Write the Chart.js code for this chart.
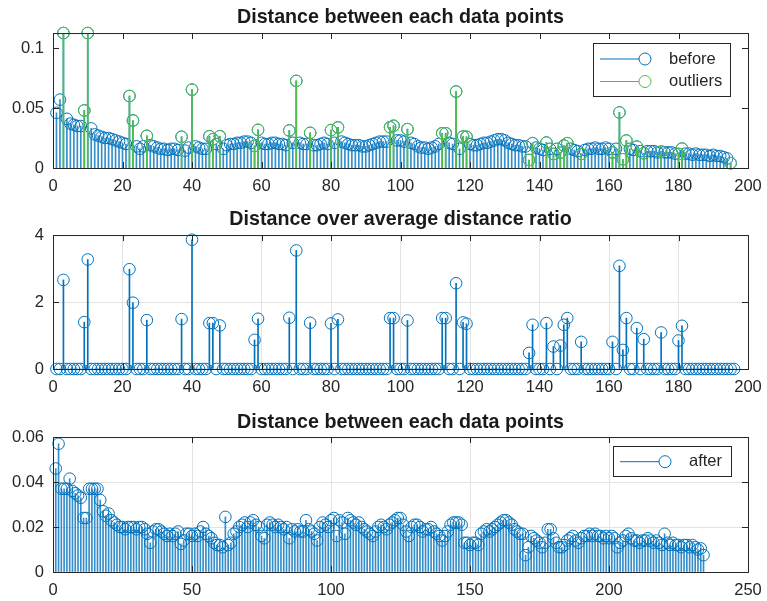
<!DOCTYPE html>
<html>
<head>
<meta charset="utf-8">
<script src="https://cdn.jsdelivr.net/npm/chart.js@4.4.0/dist/chart.umd.min.js"></script>
<style>
  body { margin: 0; background: #fff; }
  canvas { position: absolute; left: 0; }
</style>
</head>
<body>
<canvas id="top" width="767" height="200" style="top:0px"></canvas>
<canvas id="mid" width="767" height="200" style="top:200px"></canvas>
<canvas id="bottom" width="767" height="201" style="top:400px"></canvas>
<script>
"use strict";

const blue = "rgb(0,114,189)";
const stemBlue = "rgba(0,114,189,0.8)";
const green = "rgb(77,190,77)";
const axisColor = "#262626";
const fontFamily = "'Liberation Sans', Arial, Helvetica, sans-serif";

// distance between each data point, before removing outliers (index 1..195)
const before = [
  0.046, 0.057, 0.1125, 0.041, 0.037, 0.036, 0.035, 0.035, 0.048, 0.1125,
  0.033, 0.028, 0.027, 0.026, 0.025, 0.025, 0.024, 0.023, 0.022, 0.021,
  0.020, 0.060, 0.0396, 0.018, 0.016, 0.018, 0.0268, 0.019, 0.018, 0.017,
  0.016, 0.016, 0.015, 0.016, 0.016, 0.015, 0.026, 0.0145, 0.017, 0.0653,
  0.018, 0.017, 0.016, 0.016, 0.0265, 0.024, 0.020, 0.0265, 0.016, 0.019,
  0.020, 0.020, 0.021, 0.021, 0.022, 0.022, 0.021, 0.0184, 0.0318, 0.021,
  0.020, 0.020, 0.021, 0.021, 0.020, 0.020, 0.019, 0.0313, 0.021, 0.0726,
  0.021, 0.020, 0.020, 0.0293, 0.019, 0.019, 0.020, 0.021, 0.020, 0.0316,
  0.021, 0.0338, 0.022, 0.021, 0.020, 0.019, 0.019, 0.019, 0.018, 0.018,
  0.019, 0.020, 0.021, 0.022, 0.022, 0.022, 0.034, 0.0352, 0.023, 0.023,
  0.022, 0.0324, 0.021, 0.020, 0.018, 0.017, 0.017, 0.016, 0.017, 0.018,
  0.020, 0.029, 0.029, 0.021, 0.020, 0.0637, 0.016, 0.0262, 0.026, 0.020,
  0.019, 0.019, 0.020, 0.021, 0.021, 0.022, 0.023, 0.024, 0.024, 0.023,
  0.021, 0.020, 0.019, 0.019, 0.018, 0.018, 0.0067, 0.0207, 0.017, 0.016,
  0.015, 0.0212, 0.016, 0.0117, 0.016, 0.0128, 0.0187, 0.0207, 0.016, 0.015,
  0.014, 0.0117, 0.015, 0.016, 0.016, 0.017, 0.016, 0.016, 0.017, 0.016,
  0.013, 0.016, 0.0463, 0.0073, 0.0229, 0.016, 0.015, 0.0178, 0.014, 0.0123,
  0.014, 0.014, 0.014, 0.013, 0.0137, 0.013, 0.013, 0.013, 0.012, 0.0117,
  0.0162, 0.012, 0.012, 0.011, 0.012, 0.011, 0.011, 0.011, 0.010, 0.011,
  0.010, 0.010, 0.009, 0.008, 0.004
];

// indices flagged as outliers (green)
const outlierIdx = [3, 9, 10, 22, 23, 27, 37, 40, 45, 46, 48, 58, 59, 68, 70, 74, 80, 82,
  97, 98, 102, 112, 113, 116, 118, 119, 137, 138, 142, 144, 146, 147, 148, 152, 161,
  163, 164, 165, 168, 170, 175, 180, 181, 195];

// distance over average distance ratio (non-zero entries only, others are 0)
const ratioCount = 196;
const ratioIdx = [3, 9, 10, 22, 23, 27, 37, 40, 45, 46, 48, 58, 59, 68, 70, 74, 80, 82,
  97, 98, 102, 112, 113, 116, 118, 119, 137, 138, 142, 144, 146, 147, 148, 152, 161,
  163, 164, 165, 168, 170, 175, 180, 181];
const ratioVal = [2.66, 1.40, 3.27, 2.98, 1.98, 1.46, 1.49, 3.86, 1.37, 1.37, 1.30, 0.87, 1.50,
  1.53, 3.54, 1.38, 1.36, 1.48, 1.52, 1.52, 1.45, 1.52, 1.52, 2.56, 1.39, 1.35, 0.48, 1.32,
  1.37, 0.67, 0.70, 1.32, 1.52, 0.81, 0.81, 3.08, 0.57, 1.52, 1.22, 0.89, 1.09, 0.85, 1.29];

// distance between each data point, after (index 1..234)
const after = [
  0.046, 0.057, 0.037, 0.037, 0.037, 0.0415, 0.036, 0.035, 0.034, 0.033,
  0.024, 0.024, 0.037, 0.037, 0.037, 0.037, 0.032, 0.027, 0.025, 0.026,
  0.023, 0.022, 0.021, 0.020, 0.020, 0.019, 0.020, 0.020, 0.020, 0.019,
  0.020, 0.020, 0.019, 0.017, 0.013, 0.018, 0.019, 0.019, 0.018, 0.017,
  0.016, 0.017, 0.016, 0.017, 0.018, 0.0125, 0.014, 0.017, 0.017, 0.016,
  0.017, 0.016, 0.018, 0.020, 0.017, 0.016, 0.015, 0.013, 0.012, 0.012,
  0.011, 0.0245, 0.012, 0.013, 0.017, 0.018, 0.020, 0.021, 0.022, 0.020,
  0.022, 0.023, 0.021, 0.020, 0.016, 0.015, 0.021, 0.022, 0.021, 0.020,
  0.021, 0.020, 0.019, 0.020, 0.015, 0.019, 0.018, 0.019, 0.018, 0.018,
  0.023, 0.019, 0.018, 0.017, 0.014, 0.020, 0.022, 0.021, 0.020, 0.023,
  0.024, 0.016, 0.023, 0.022, 0.017, 0.024, 0.023, 0.022, 0.021, 0.022,
  0.020, 0.019, 0.018, 0.017, 0.016, 0.018, 0.020, 0.021, 0.020, 0.019,
  0.021, 0.022, 0.023, 0.024, 0.024, 0.021, 0.018, 0.016, 0.020, 0.021,
  0.021, 0.020, 0.018, 0.019, 0.019, 0.020, 0.018, 0.017, 0.016, 0.014,
  0.016, 0.018, 0.021, 0.022, 0.022, 0.022, 0.021, 0.013, 0.013, 0.012,
  0.013, 0.013, 0.012, 0.017, 0.018, 0.019, 0.018, 0.019, 0.020, 0.021,
  0.022, 0.023, 0.023, 0.022, 0.021, 0.019, 0.018, 0.017, 0.017, 0.0075,
  0.011, 0.016, 0.015, 0.014, 0.013, 0.011, 0.013, 0.019, 0.019, 0.015,
  0.013, 0.011, 0.011, 0.012, 0.014, 0.015, 0.016, 0.014, 0.013, 0.015,
  0.016, 0.016, 0.017, 0.016, 0.017, 0.016, 0.016, 0.015, 0.016, 0.015,
  0.016, 0.015, 0.011, 0.013, 0.014, 0.016, 0.017, 0.015, 0.014, 0.014,
  0.013, 0.014, 0.014, 0.015, 0.014, 0.013, 0.014, 0.013, 0.012, 0.017,
  0.013, 0.012, 0.013, 0.012, 0.012, 0.011, 0.012, 0.012, 0.011, 0.012,
  0.011, 0.010, 0.0105, 0.0075
];

// axis ticks and limits
const xTicks1 = [0, 20, 40, 60, 80, 100, 120, 140, 160, 180, 200];
const yTicks1 = [0, 0.05, 0.1];
const yMax1 = 0.1125;
const yTicks2 = [0, 2, 4];
const xTicks3 = [0, 50, 100, 150, 200, 250];
const yTicks3 = [0, 0.02, 0.04, 0.06];

// build {x, y} points from a 1-based series
function toPoints(values) {
  return values.map((v, i) => ({ x: i + 1, y: v }));
}

let outlierPts = outlierIdx.map(i => ({ x: i, y: before[i - 1] }));

let ratio = [];
for (let i = 1; i <= ratioCount; i++) {
  let k = ratioIdx.indexOf(i);
  ratio.push(k >= 0 ? ratioVal[k] : 0);
}

// stems are 1px bars, heads are open circles
function stems(points, color, order) {
  return { type: "bar", data: points, backgroundColor: color, borderWidth: 0,
    barThickness: 1, grouped: false, order: order };
}
function heads(points, color, order) {
  return { type: "scatter", data: points, pointStyle: "circle", pointRadius: 5.8,
    pointHoverRadius: 5.8, borderWidth: 1, borderColor: color,
    backgroundColor: "rgba(0,0,0,0)", clip: false, order: order };
}

// MATLAB-like box, inward ticks and legend
const axesBox = {
  id: "axesBox",
  afterDatasetsDraw(chart, args, opts) {
    const ctx = chart.ctx, a = chart.chartArea;
    const xs = chart.scales.x, ys = chart.scales.y;
    ctx.save();
    ctx.strokeStyle = axisColor;
    ctx.lineWidth = 1;
    ctx.beginPath();
    xs.ticks.forEach(t => {
      const p = Math.round(xs.getPixelForValue(t.value)) + 0.5;
      ctx.moveTo(p, a.bottom); ctx.lineTo(p, a.bottom - 6);
      ctx.moveTo(p, a.top); ctx.lineTo(p, a.top + 6);
    });
    ys.ticks.forEach(t => {
      const p = Math.round(ys.getPixelForValue(t.value)) + 0.5;
      ctx.moveTo(a.left, p); ctx.lineTo(a.left + 6, p);
      ctx.moveTo(a.right, p); ctx.lineTo(a.right - 6, p);
    });
    ctx.stroke();
    ctx.strokeRect(a.left + 0.5, a.top + 0.5, a.right - a.left, a.bottom - a.top);

    const lg = opts.legend;
    if (lg) {
      ctx.fillStyle = "#fff";
      ctx.fillRect(lg.x, lg.y, lg.w, lg.h);
      ctx.strokeStyle = axisColor;
      ctx.strokeRect(lg.x + 0.5, lg.y + 0.5, lg.w, lg.h);
      ctx.font = "16.5px " + fontFamily;
      ctx.textBaseline = "middle";
      lg.labels.forEach((label, i) => {
        const cy = lg.y + lg.rows[i];
        ctx.strokeStyle = lg.colors[i];
        ctx.beginPath();
        ctx.moveTo(lg.x + 7, cy); ctx.lineTo(lg.x + 46, cy);
        ctx.stroke();
        ctx.beginPath();
        ctx.arc(lg.x + 52, cy, 6, 0, Math.PI * 2);
        ctx.stroke();
        ctx.fillStyle = axisColor;
        ctx.fillText(label, lg.x + 76, cy);
      });
    }
    ctx.restore();
  }
};

function stemChart(id, c) {
  const tickFont = { family: fontFamily, size: 16.5 };
  return new Chart(document.getElementById(id), {
    type: "scatter",
    data: { datasets: c.datasets },
    plugins: [axesBox],
    options: {
      responsive: false,
      animation: false,
      events: [],
      layout: { padding: { left: 0, right: 19, top: 0, bottom: 0 } },
      plugins: {
        legend: { display: false },
        tooltip: { enabled: false },
        title: {
          display: true, text: c.title, fullSize: false, color: "#1a1a1a",
          font: { family: fontFamily, size: 19.7, weight: "bold", lineHeight: 1.2 },
          padding: { top: c.titleTop, bottom: c.titleBottom }
        },
        axesBox: { legend: c.legend }
      },
      scales: {
        x: {
          type: "linear", min: 0, max: c.xMax, offset: false,
          grid: { display: c.grid, color: "#e3e3e3", drawTicks: false, offset: false },
          border: { display: false },
          afterBuildTicks: s => { s.ticks = c.xTicks.map(v => ({ value: v })); },
          afterFit: s => { s.height = c.xHeight; s.paddingLeft = 0; s.paddingRight = 0; },
          ticks: { font: tickFont, color: axisColor, padding: 8.5, maxRotation: 0, autoSkip: false,
            callback: v => String(v) }
        },
        y: {
          type: "linear", min: 0, max: c.yMax,
          grid: { display: c.grid, color: "#e3e3e3", drawTicks: false },
          border: { display: false },
          afterBuildTicks: s => { s.ticks = c.yTicks.map(v => ({ value: v })); },
          afterFit: s => { s.width = 53; s.paddingTop = 0; s.paddingBottom = 0; },
          ticks: { font: tickFont, color: axisColor, padding: 9,
            callback: v => String(Math.round(v * 1e6) / 1e6) }
        }
      }
    }
  });
}

// top: before + outliers
stemChart("top", {
  title: "Distance between each data points",
  titleTop: 6.2, titleBottom: 3.2, xHeight: 32,
  xMax: 200, xTicks: xTicks1, yMax: yMax1, yTicks: yTicks1, grid: false,
  datasets: [
    heads(outlierPts, green, 0),
    stems(outlierPts, green, 1),
    heads(toPoints(before), blue, 2),
    stems(toPoints(before), stemBlue, 3)
  ],
  legend: { x: 593, y: 43, w: 137, h: 53, rows: [16, 38.5],
    labels: ["before", "outliers"], colors: [blue, green] }
});

// middle: ratio
stemChart("mid", {
  title: "Distance over average distance ratio",
  titleTop: 8.2, titleBottom: 3.2, xHeight: 31,
  xMax: 200, xTicks: xTicks1, yMax: 4, yTicks: yTicks2, grid: true,
  datasets: [
    heads(toPoints(ratio), blue, 0),
    stems(toPoints(ratio), blue, 1)
  ],
  legend: null
});

// bottom: after
stemChart("bottom", {
  title: "Distance between each data points",
  titleTop: 10.7, titleBottom: 2.7, xHeight: 29,
  xMax: 250, xTicks: xTicks3, yMax: 0.06, yTicks: yTicks3, grid: true,
  datasets: [
    heads(toPoints(after), blue, 0),
    stems(toPoints(after), stemBlue, 1)
  ],
  legend: { x: 613, y: 46, w: 118, h: 30, rows: [15.7],
    labels: ["after"], colors: [blue] }
});
</script>
</body>
</html>
